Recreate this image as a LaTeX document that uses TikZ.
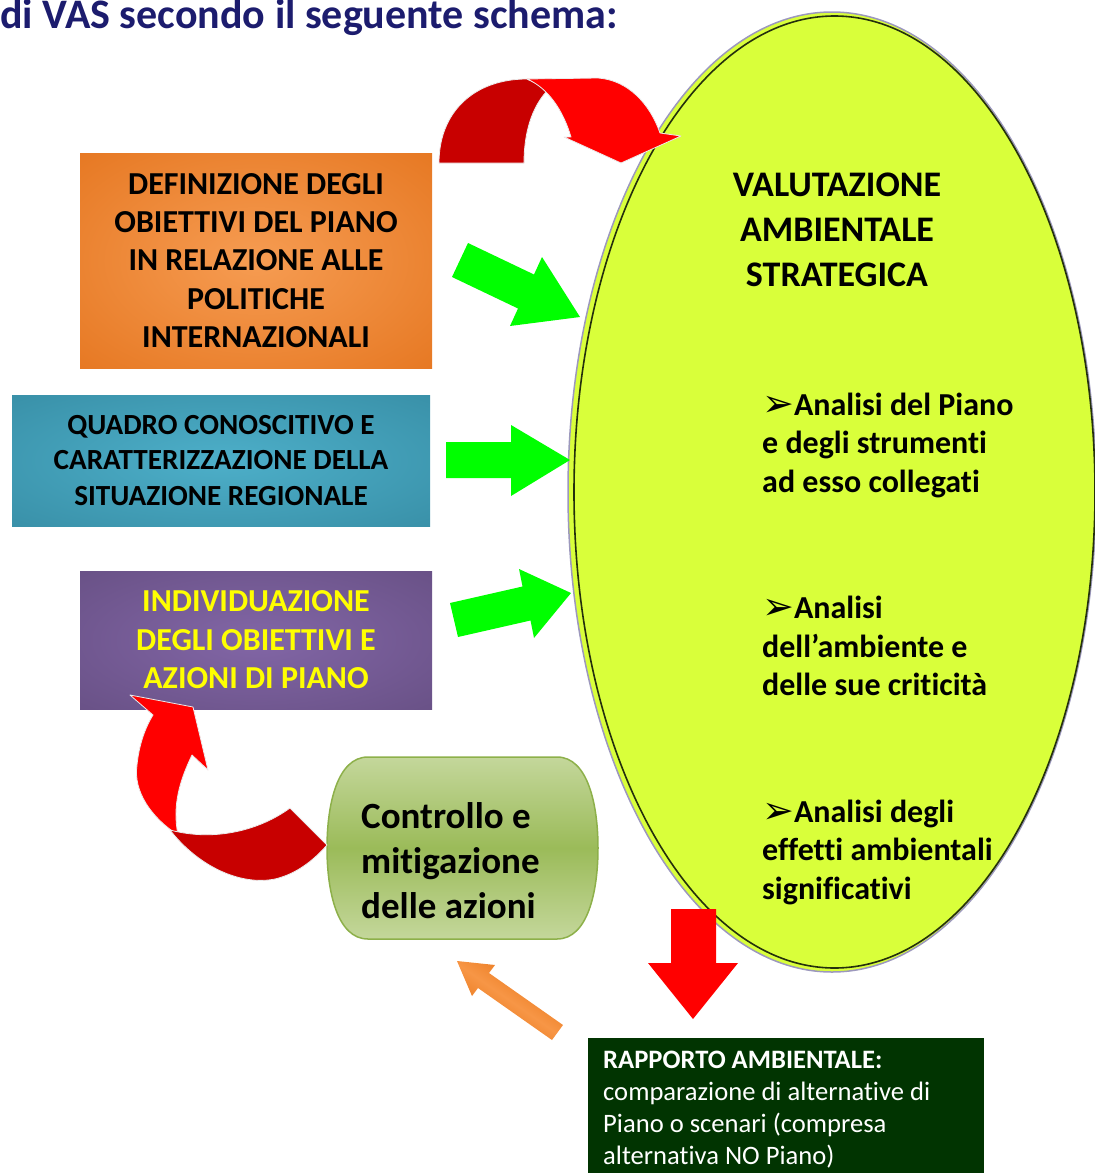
\documentclass[tikz,border=0pt]{standalone}
\usepackage{fontspec}
\setmainfont{Carlito}[Ligatures=NoCommon]
\newfontfamily\symfont{DejaVu Sans}
\usetikzlibrary{shapes.geometric,shadings}
\definecolor{titleblue}{HTML}{1C1C6E}
\definecolor{orin}{HTML}{F69C52}
\definecolor{orout}{HTML}{E06A10}
\definecolor{tealin}{HTML}{4DAFC9}
\definecolor{tealout}{HTML}{31849B}
\definecolor{purin}{HTML}{8266A6}
\definecolor{purout}{HTML}{5F497A}
\definecolor{vasfill}{HTML}{D9FF3A}
\definecolor{vasline}{HTML}{24300C}
\definecolor{lavender}{HTML}{9C98BD}
\definecolor{pilllight}{HTML}{C4D79B}
\definecolor{pillmid}{HTML}{9BBB59}
\definecolor{pillborder}{HTML}{8DB04A}
\definecolor{arrgreen}{HTML}{00FF00}
\definecolor{arrred}{HTML}{FF0000}
\definecolor{arrdark}{HTML}{C80000}
\definecolor{arrorange}{HTML}{E46C0A}
\definecolor{arrorangelt}{HTML}{F79646}
\definecolor{rapgreen}{HTML}{013401}
\definecolor{txtyellow}{HTML}{FFFF00}
\pgfdeclareradialshading{orangesh}{\pgfpoint{0bp}{0bp}}{color(0bp)=(orin); color(50bp)=(orout)}
\pgfdeclareradialshading{tealsh}{\pgfpoint{0bp}{0bp}}{color(0bp)=(tealin); color(50bp)=(tealout)}
\pgfdeclareradialshading{purplesh}{\pgfpoint{0bp}{0bp}}{color(0bp)=(purin); color(50bp)=(purout)}
\tikzset{
  colbox/.style={rectangle, shade, inner sep=0pt, align=center, font=\bfseries},
  blockarrow/.style={line join=miter},
  ribbon/.style={draw=black!8, line width=0.8pt, line join=round},
  bullettxt/.style={anchor=west, inner sep=0pt, align=left, font=\fontsize{32}{38.5}\selectfont\bfseries},
}
\newcommand{\bulletmark}{\raisebox{-1pt}{\symfont\fontsize{38}{38.5}\selectfont ➢}}
\begin{document}
\begin{tikzpicture}[x=1pt,y=-1pt]
\useasboundingbox (0,0) rectangle (1095,1173);

% title
\node[anchor=base west, inner sep=0pt, text=titleblue,
      font=\fontsize{42}{50}\selectfont\bfseries] (title) at (0,28) {di VAS secondo il seguente schema:};

% left boxes
\node[colbox, shading=orangesh, minimum width=352pt, minimum height=215pt,
      font=\fontsize{32}{38.4}\selectfont\bfseries] (obj) at (256,260.5)
  {DEFINIZIONE DEGLI\\OBIETTIVI DEL PIANO\\IN RELAZIONE ALLE\\POLITICHE\\INTERNAZIONALI};
\node[colbox, shading=tealsh, minimum width=418pt, minimum height=131pt,
      font=\fontsize{29.2}{35.5}\selectfont\bfseries] (quadro) at (221,460.5)
  {QUADRO CONOSCITIVO E\\CARATTERIZZAZIONE DELLA\\SITUAZIONE REGIONALE};
\node[colbox, shading=purplesh, minimum width=352pt, minimum height=138pt, text=txtyellow,
      font=\fontsize{32}{38.4}\selectfont\bfseries] (indiv) at (256,640)
  {INDIVIDUAZIONE\\DEGLI OBIETTIVI E\\AZIONI DI PIANO};

% big ellipse
\node[ellipse, inner sep=0pt, minimum width=528pt, minimum height=960pt,
      draw=lavender, line width=1.5pt, fill=vasfill] (vasell) at (832,492) {};
\node[ellipse, inner sep=0pt, minimum width=521pt, minimum height=952pt,
      draw=vasline, line width=1.6pt] (vasin) at (834.5,492) {};
\node[inner sep=0pt, align=center, font=\fontsize{36}{45}\selectfont\bfseries] (vas) at (837,230)
  {VALUTAZIONE\\AMBIENTALE\\STRATEGICA};
\node[bullettxt] (an1) at (762,445)
  {\bulletmark Analisi del Piano\\e degli strumenti\\ad esso collegati};
\node[bullettxt] (an2) at (762,646)
  {\bulletmark Analisi\\dell’ambiente e\\delle sue criticità};
\node[bullettxt] (an3) at (762,852)
  {\bulletmark Analisi degli\\effetti ambientali\\significativi};

% green arrows into the ellipse
\fill[arrgreen, blockarrow] (468,243) -- (534,274.5) -- (542,257) -- (580,317) -- (510,326)
  -- (518,308.5) -- (452,277) -- cycle;
\fill[arrgreen, blockarrow] (446,442) -- (511,442) -- (511,425) -- (570,460) -- (511,496)
  -- (511,478) -- (446,478) -- cycle;
\fill[arrgreen, blockarrow] (450,603) -- (522.5,586.5) -- (519,569) -- (571,593) -- (534,638)
  -- (530.5,620.5) -- (458,637) -- cycle;

% top curved red arrow
\path[ribbon, fill=arrdark] (439,163) .. controls (439,112) and (474,79) .. (527,79)
  .. controls (536,83) and (542,87) .. (546,92)
  .. controls (532,108) and (524,132) .. (524,163) -- cycle;
\path[ribbon, fill=arrred] (527,79) -- (598,78) .. controls (628,80) and (650,104) .. (660,133)
  -- (681,136) -- (621,163) -- (564,137) -- (571,137)
  .. controls (563,110) and (548,88) .. (527,79) -- cycle;

% control pill
\path[draw=pillborder, line width=1.5pt, top color=pilllight, bottom color=pilllight, middle color=pillmid]
  (368,757) -- (557,757) .. controls (588,757) and (598,805) .. (598,848)
  .. controls (598,891) and (588,939) .. (557,939) -- (368,939)
  .. controls (337,939) and (327,891) .. (327,848)
  .. controls (327,805) and (337,757) .. (368,757) -- cycle;
\node[anchor=west, inner sep=0pt, align=left, font=\fontsize{37}{45}\selectfont\bfseries] (ctrl) at (361,861)
  {Controllo e\\mitigazione\\delle azioni};

% bottom-left curved red arrow
\path[ribbon, fill=arrred] (130,695) -- (193,707) -- (208,770) -- (192,755)
  .. controls (180,780) and (172,805) .. (178,835)
  .. controls (152,818) and (133,792) .. (137,765)
  .. controls (139,745) and (145,728) .. (153,715) -- cycle;
\path[ribbon, fill=arrdark] (170,830) .. controls (198,866) and (240,886) .. (275,879)
  .. controls (296,874) and (313,861) .. (327,845) -- (290,808)
  .. controls (260,830) and (215,842) .. (170,830) -- cycle;

% orange arrow from report to control
\path[blockarrow, top color=arrorange, bottom color=arrorange, middle color=arrorangelt, shading angle=-35]
  (457,961) -- (495,965) -- (489,973) -- (563,1025) -- (552,1040) -- (478,988) -- (472,996) -- cycle;

% red down arrow to report
\fill[arrred, blockarrow] (671,909) -- (716,909) -- (716,963) -- (738,963) -- (693,1019)
  -- (648,963) -- (671,963) -- cycle;

% report box
\fill[rapgreen] (588,1038) rectangle (984,1180);
\node[anchor=west, inner sep=0pt, align=left, text=white, font=\fontsize{26.6}{32}\selectfont] (rapp) at (603,1110)
  {\textbf{RAPPORTO AMBIENTALE:}\\comparazione di alternative di\\Piano o scenari (compresa\\alternativa NO Piano)};
\end{tikzpicture}
\end{document}
